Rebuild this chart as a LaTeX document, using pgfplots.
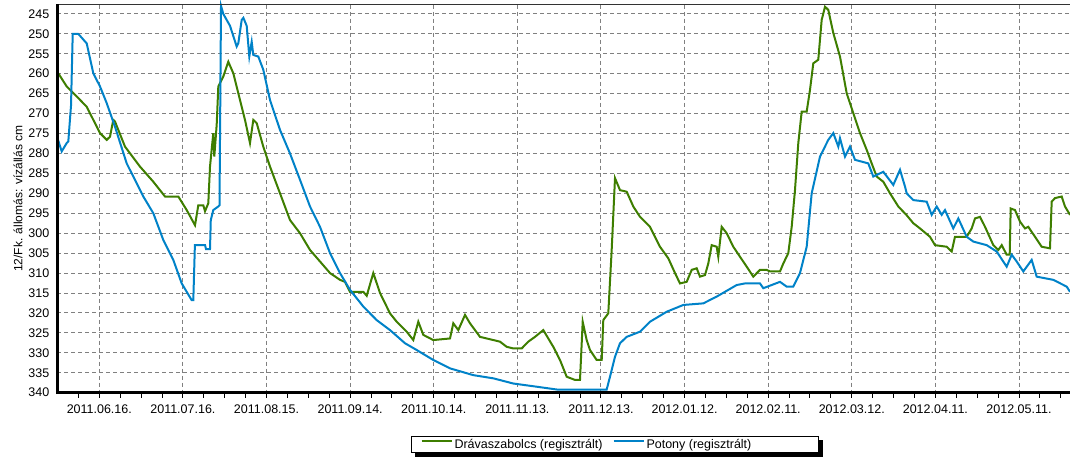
\documentclass[border=0pt]{standalone}
\usepackage{fontspec}
\setmainfont{Liberation Sans}
\usepackage{pgfplots}
\pgfplotsset{compat=1.18}
\usetikzlibrary{backgrounds}
\definecolor{dgreen}{RGB}{62,126,0}
\definecolor{dblue}{RGB}{0,130,200}
\definecolor{gridgray}{RGB}{128,128,128}
\begin{document}
\begin{tikzpicture}
\begin{axis}[name=ax,
 width=1012.5pt, height=388pt, scale only axis,
 xmin=-15, xmax=348.3, ymin=242.7, ymax=340, y dir=reverse,
 xtick={0,30,...,330},
 xticklabels={2011.06.16.,2011.07.16.,2011.08.15.,2011.09.14.,2011.10.14.,2011.11.13.,2011.12.13.,2012.01.12.,2012.02.11.,2012.03.12.,2012.04.11.,2012.05.11.},
 minor xtick={-7.5,0,...,345},
 ytick={245,250,...,340},
 grid=major,
 major grid style={dash pattern=on 4pt off 3pt, gridgray, line width=1pt},
 axis line style={draw=none},
 tick align=outside,
 xtick pos=bottom, ytick pos=left,
 major tick length=5pt, minor tick length=5pt,
 ytick style={draw=none},
 x tick style={black, line width=1pt},
 minor x tick style={black, line width=1pt},
 ticklabel style={font=\fontsize{12.5}{14}\selectfont},
 xticklabel style={yshift=-4pt},
 yticklabel style={xshift=-1pt, inner xsep=2pt},
 /pgf/number format/assume math mode=true,
 ylabel={12/Fk. állomás: vízállás cm},
 ylabel style={at={(axis description cs:-0.039,0.5)}, anchor=center, font=\fontsize{12}{14}\selectfont},
 clip=false,
 legend columns=-1,
 legend image code/.code={\draw[#1] (0pt,4pt) -- (30pt,4pt);},
 legend style={name=leg, at={(axis description cs:0.5506,-0.134)}, anchor=center, draw=black, line width=0.8pt, fill=white,
   font=\fontsize{12.5}{14}\selectfont, inner ysep=0.5pt, inner xsep=9pt,
   /tikz/every even column/.append style={column sep=8pt}},
]
\addplot[dgreen, line width=2pt] coordinates {
(-14.71,259.9) (-11.7,263.2) (-8.11,265.7) (-4.52,268.3) (0.25,274.9) (2.66,276.6) (3.84,275.8) (5.02,271.6) (5.63,272) (9.22,278.3) (14.6,283.3) (19.38,287.1) (23.57,290.8) (28.35,290.8) (31.36,294.2) (34.34,298) (35.52,293) (37.32,293) (37.93,294.5) (39.11,292.5) (39.72,283.3) (40.9,274.9) (41.26,280.8) (42.12,272.8) (42.7,263.2) (44.49,260.7) (46.29,257) (48.08,259.9) (49.87,264.9) (52.28,271.6) (54.07,277.4) (55.26,271.6) (56.48,272.4) (58.84,278.3) (61.25,283.3) (64.84,290) (68.42,296.7) (72.01,300) (75.6,304.2) (79.19,307.1) (82.78,310) (86.37,311.7) (88.16,312.2) (89.95,314.7) (94.73,314.7) (95.95,315.7) (98.31,310) (100.72,315) (104.3,320.1) (106.71,322.2) (110.3,324.7) (112.67,326.8) (114.46,322.2) (116.25,325.5) (119.84,326.8) (125.84,326.4) (127.02,322.6) (128.81,324.3) (131.22,320.5) (133.01,322.6) (136.6,326) (143.77,327.2) (146.18,328.5) (148.55,328.9) (151.56,328.9) (153.93,327.2) (156.33,326) (159.31,324.3) (162.9,328.5) (165.3,331.8) (167.71,336) (170.69,336.8) (172.48,336.8) (173.45,322.2) (174.88,326.8) (176.07,329.3) (178.47,331.8) (180.27,331.8) (180.84,321.8) (182.63,320.1) (183.85,304.2) (185.04,286.2) (186.83,289.2) (189.24,289.6) (191.6,293.3) (194.01,295.9) (197.6,298.4) (201.18,303.4) (204.16,306.3) (206.57,310) (208.36,312.6) (210.76,312.2) (212.56,309.2) (214.35,308.8) (215.54,310.9) (217.33,310.5) (218.51,307.6) (219.73,303) (221.53,303.4) (222.1,305.9) (223.32,298.4) (225.12,300) (227.48,303.4) (229.89,305.9) (232.29,308.4) (234.66,310.9) (237.06,309.2) (239.47,309.2) (240.65,309.6) (244.24,309.6) (245.43,307.6) (247.22,305) (248.44,298.4) (249.62,289.2) (250.81,277.4) (252.03,269.5) (253.82,269.5) (255.0,264.1) (256.19,257.4) (257.98,256.5) (259.2,246.5) (260.39,243.2) (261.57,244) (263.37,249.8) (265.77,255.7) (268.17,264.9) (270.54,269.9) (272.94,274.9) (275.35,279.1) (277.14,282.5) (278.94,285.8) (281.31,287.1) (283.71,290) (286.69,293.3) (289.7,295.5) (292.07,297.5) (294.47,298.8) (298.06,300.9) (299.86,303) (304.05,303.4) (305.85,304.6) (307.03,300.9) (311.23,300.9) (313.03,298.8) (314.22,296.3) (316.01,295.9) (317.81,298.4) (320.78,303) (322.58,304.2) (323.8,303) (325.58,305.4) (326.66,305.4) (327.02,293.8) (328.56,294.2) (330.36,297.1) (332.15,298.8) (333.33,298.4) (335.74,300.9) (338.14,303.4) (341.12,303.8) (341.73,292.1) (342.91,291.2) (345.32,290.8) (346.5,293.3) (348.3,295.4)
};
\addplot[dblue, line width=2pt] coordinates {
(-14.8,276.6) (-13.49,279.5) (-11.7,277.4) (-11.12,277) (-10.15,268) (-9.54,250) (-7.64,250) (-6.92,250.5) (-4.52,252.4) (-2.15,259.9) (0.25,263.2) (2.66,267.4) (5.63,273.3) (9.83,282.5) (12.2,285.8) (15.79,290.8) (19.38,295) (22.96,301.7) (26.55,306.7) (29.57,312.6) (33.15,316.8) (33.73,316.8) (34.3,303) (37.93,303) (38.3,304) (39.72,304) (40.0,296.7) (40.9,294.2) (42.7,293.3) (43.13,293) (43.67,243) (44.49,245) (46.9,248) (49.3,253.2) (49.87,252.4) (51.1,246.5) (51.7,246) (52.89,248) (53.82,255.7) (54.68,252) (55.26,255.3) (57.05,255.7) (58.84,259) (61.25,266.6) (64.84,274.1) (68.42,280) (72.01,286.6) (75.6,293.3) (79.19,298.4) (82.78,305) (86.37,310) (89.95,314.2) (94.73,318.4) (99.53,321.8) (104.3,324.3) (109.69,327.6) (113.89,329.3) (119.84,331.8) (125.84,333.9) (134.2,335.6) (141.37,336.4) (148.55,337.7) (156.94,338.5) (164.12,339.2) (170.69,339.2) (178.47,339.2) (182.06,339.2) (183.24,336) (185.04,331) (186.83,327.6) (189.24,326) (194.01,324.7) (197.6,322.2) (203.59,319.7) (209.54,318) (216.72,317.6) (221.53,315.9) (228.7,313) (231.68,312.6) (237.06,312.6) (238.25,313.8) (244.24,312.2) (246.64,313.4) (249.01,313.4) (251.42,310) (253.82,303.4) (255.61,290) (258.59,280.8) (261.57,276.6) (263.37,274.9) (265.16,278.3) (265.77,276.2) (267.56,280.8) (269.36,278.3) (271.15,281.6) (275.92,282.5) (277.72,285.8) (281.31,284.6) (284.9,287.9) (287.3,284.1) (289.09,288.3) (289.7,290) (292.07,291.7) (296.88,292.1) (298.67,295.4) (300.47,293.3) (302.26,295.4) (303.44,294.2) (306.42,298.8) (308.22,296.3) (311.23,300.9) (313.6,302.1) (318.41,303) (321.99,304.6) (325.58,308.4) (327.38,305.4) (329.17,307.1) (331.54,309.6) (334.55,306.7) (336.35,310.9) (342.3,311.7) (347.11,313.4) (348.3,314.7)
};
\legend{Drávaszabolcs (regisztrált),Potony (regisztrált)\hspace*{56pt}}
\draw[black!80, line width=1.3pt] (axis description cs:0,1) -- (axis description cs:1,1);
\draw[black, line width=3pt] (axis description cs:0,0) -- (axis description cs:1,0);
\draw[black, line width=3pt] (axis description cs:0,-0.004) -- (axis description cs:0,1.002);
\end{axis}
\begin{scope}[on background layer]
\fill[black] ([xshift=4pt,yshift=-4pt]leg.south west) rectangle ([xshift=4pt,yshift=-4pt]leg.north east);
\end{scope}
\pgfresetboundingbox
\path[use as bounding box] ([xshift=-57.5pt,yshift=-66.3pt]ax.south west) rectangle ([yshift=4.7pt]ax.north east);
\end{tikzpicture}
\end{document}
